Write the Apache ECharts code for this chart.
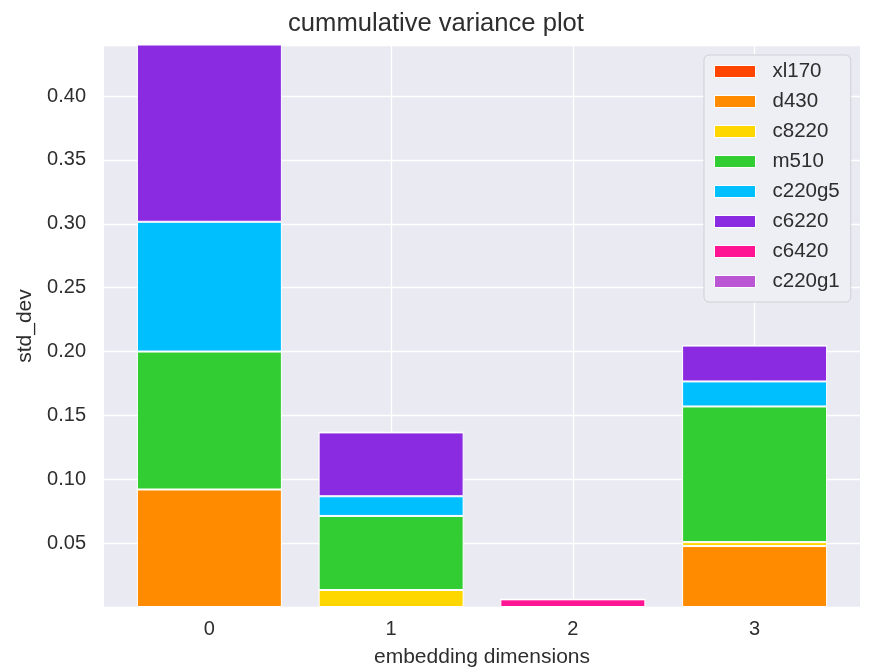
<!DOCTYPE html>
<html>
<head>
<meta charset="utf-8">
<script src="https://cdn.jsdelivr.net/npm/echarts@6/dist/echarts.min.js"></script>
<style>
  html, body { margin: 0; padding: 0; background: #ffffff; }
  #chart { width: 872px; height: 670px; }
</style>
</head>
<body>
<div id="chart"></div>
<script>
// Embedding dimensions along the x axis
const dimensions = [0, 1, 2, 3];
const dimensionLabels = ['0', '1', '2', '3'];

// Per-node-type std_dev contribution for each dimension (stacked)
const xl170   = [0,     0,      0,     0];
const d430    = [0.092, 0,      0,     0.0477];
const c8220   = [0,     0.0133, 0,     0.0031];
const m510    = [0.108, 0.058,  0,     0.1062];
const c220g5  = [0.1016,0.0154, 0,     0.0196];
const c6220   = [0.16,  0.05,   0,     0.0281];
const c6420   = [0,     0,      0.006, 0];
const c220g1  = [0,     0,      0,     0];

const seriesNames = ['xl170', 'd430', 'c8220', 'm510', 'c220g5', 'c6220', 'c6420', 'c220g1'];
const seriesValues = [xl170, d430, c8220, m510, c220g5, c6220, c6420, c220g1];
const seriesColors = ['#FF4500', '#FF8C00', '#FFD700', '#32CD32', '#00BFFF', '#8A2BE2', '#FF1493', '#BA55D3'];

// Y axis tick values
const yTicks = [0.05, 0.10, 0.15, 0.20, 0.25, 0.30, 0.35, 0.40];

const FONT = '"Liberation Sans", Arial, sans-serif';
const TEXT = '#2e2e2e';

// Each datum is [std_dev, dimension]; the value column comes first so the stack sums std_dev.
const series = seriesNames.map((name, i) => ({
  name: name,
  type: 'bar',
  stack: 'total',
  barWidth: 145,
  encode: { x: 1, y: 0 },
  data: dimensions.map((d, j) => [seriesValues[i][j], d]),
  itemStyle: { color: seriesColors[i], borderColor: '#ffffff', borderWidth: 1 },
  emphasis: { disabled: true }
}));

const chart = echarts.init(document.getElementById('chart'), null, { renderer: 'canvas' });
chart.setOption({
  animation: false,
  backgroundColor: '#ffffff',
  title: {
    text: 'cummulative variance plot',
    left: 'center',
    top: 6,
    textStyle: { fontFamily: FONT, fontSize: 25.6, fontWeight: 'normal', color: TEXT }
  },
  grid: {
    left: 104, right: 12, top: 45, bottom: 63,
    outerBoundsMode: 'none',
    show: true, backgroundColor: '#EAEAF2', borderWidth: 0
  },
  legend: {
    orient: 'vertical',
    left: 704,
    top: 55,
    data: seriesNames,
    icon: 'rect',
    itemWidth: 41,
    itemHeight: 12,
    itemGap: 9,
    padding: [6, 11, 10, 10],
    backgroundColor: 'rgba(238,238,245,0.92)',
    borderColor: '#cfcfd6',
    borderWidth: 1,
    borderRadius: 5,
    itemStyle: { borderColor: '#ffffff', borderWidth: 1 },
    textStyle: { fontFamily: FONT, fontSize: 20.5, color: TEXT, lineHeight: 20, padding: [0, 0, 0, 12] }
  },
  xAxis: {
    type: 'value',
    min: -0.58,
    max: 3.58,
    name: 'embedding dimensions',
    nameLocation: 'middle',
    nameGap: 40,
    nameTextStyle: { fontFamily: FONT, fontSize: 21, color: TEXT },
    axisLine: { show: false },
    axisTick: { show: false, customValues: dimensions },
    axisLabel: {
      customValues: dimensions,
      formatter: v => dimensionLabels[Math.round(v)],
      fontFamily: FONT, fontSize: 20, color: TEXT, margin: 12
    },
    splitLine: { show: true, lineStyle: { color: '#ffffff', width: 1.3 } }
  },
  yAxis: {
    type: 'value',
    min: 0,
    max: 0.44,
    interval: 0.05,
    name: 'std_dev',
    nameLocation: 'middle',
    nameGap: 63,
    nameTextStyle: { fontFamily: FONT, fontSize: 21, color: TEXT },
    axisLine: { show: false },
    axisTick: { show: false },
    axisLabel: {
      fontFamily: FONT, fontSize: 20, color: TEXT, margin: 18,
      formatter: v => {
        const hit = yTicks.find(t => Math.abs(t - v) < 1e-9);
        return hit === undefined ? '' : hit.toFixed(2);
      }
    },
    splitLine: { show: true, lineStyle: { color: '#ffffff', width: 1.3 } }
  },
  series: series
});
</script>
</body>
</html>
